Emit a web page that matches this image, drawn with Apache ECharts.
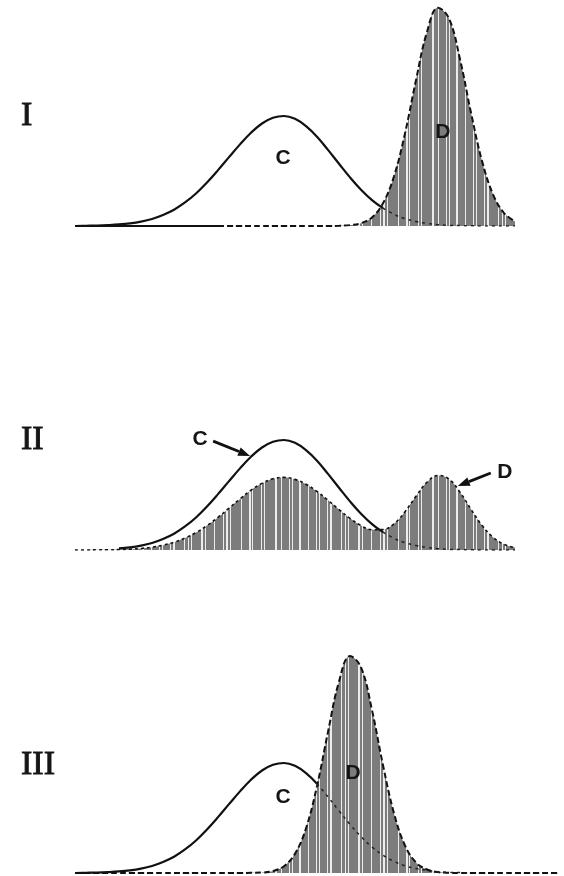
<!DOCTYPE html>
<html>
<head>
<meta charset="utf-8">
<script src="https://cdn.jsdelivr.net/npm/echarts@6/dist/echarts.min.js"></script>
<style>
  html, body { margin: 0; padding: 0; background: #fff; }
  #chart { width: 564px; height: 876px; }
</style>
</head>
<body>
<div id="chart"></div>
<script>
// Sample positions along the trait axis, shared by every curve
const xs = [0, 0.25, 0.5, 0.75, 1, 1.25, 1.5, 1.75, 2, 2.25, 2.5, 2.75, 3, 3.25, 3.5, 3.75,
            4, 4.25, 4.5, 4.75, 5, 5.25, 5.5, 5.75, 6, 6.25, 6.5, 6.75, 7, 7.25, 7.5, 7.75,
            8, 8.25, 8.5, 8.75, 9, 9.25, 9.5, 9.75, 10, 10.25, 10.5, 10.75, 11];

// Distribution C (the same curve in all three panels)
const curveC = [0, 0.1, 0.2, 0.4, 0.7, 1.2, 2.0, 3.2, 5.0, 7.4, 10.7, 14.8, 19.8, 25.4, 31.3, 37.1,
                42.4, 46.6, 49.2, 50.0, 48.7, 45.4, 40.6, 34.6, 28.3, 22.1, 16.5, 11.8, 8.1, 5.3, 3.3, 2.0,
                1.2, 0.6, 0.3, 0.2, 0.1, 0, 0, 0, 0, 0, 0, 0, 0];

// Panel I: distribution D
const shadeI = [null, null, null, null, null, null, null, null, null, null, null, null, null, 0, 0, 0,
                0, 0, 0, 0, 0, 0, 0, 0, 0.1, 0.4, 1.3, 3.9, 10.3, 22.6, 42.1, 66.3,
                88.2, 99.2, 94.3, 75.8, 51.5, 29.6, 14.4, 5.9, 2.1, null, null, null, null];

// Panel II: combined shaded distribution (scaled C plus small D)
const shadeII = [0, 0, 0.1, 0.1, 0.2, 0.4, 0.7, 1.3, 2.2, 3.5, 5.4, 7.9, 11.1, 14.8, 19.0, 23.2,
                 27.2, 30.3, 32.4, 33.0, 32.1, 29.9, 26.6, 22.6, 18.4, 14.4, 11.1, 9.2, 9.3, 11.9, 17.4, 24.4,
                 30.8, 33.9, 32.2, 26.3, 18.5, 11.2, 5.8, 2.6, 1.1, null, null, null, null];

// Panel III: distribution D
const shadeIII = [0, 0, 0, 0, 0, 0, 0, 0, 0, 0, 0, 0, 0, 0, 0, 0,
                  0.1, 0.2, 0.9, 3.1, 8.7, 20.3, 39.5, 64.1, 87.0, 98.6, 93.5, 74.0, 49.0, 27.1, 12.5, 4.8,
                  1.6, 0.4, 0.1, 0, 0, 0, 0, 0, 0, 0, 0, 0, 0];

// Where curve C is drawn solid (outside the shading) and dotted (inside it): [start, split, end] indices
const cSpanI = [0, 28, 40];
const cSpanII = [4, 28, 40];
const cSpanIII = [0, 22, 36];

// Curve labels per panel: [x, y, text]
const curveLabels = [
  [[4.73, 30.9, 'C'], [8.36, 42.7, 'D']],
  [[2.84, 50.5, 'C'], [9.77, 35.5, 'D']],
  [[4.73, 34.5, 'C'], [6.32, 45.5, 'D']]
];
// Arrows in panel II: [fromX, fromY, toX, toY]
const arrowsII = [[3.14, 49.5, 3.98, 42.7], [9.45, 35.0, 8.70, 29.1]];
// Solid ground line at the left of panel I
const groundI = [0, 3.25];

const panelNames = ['I', 'II', 'III'];

// Grey fill with irregular light vertical hatching
function hatchCanvas() {
  const c = document.createElement('canvas');
  c.width = 157; c.height = 8;
  const g = c.getContext('2d');
  g.fillStyle = '#7c7c7c';
  g.fillRect(0, 0, c.width, c.height);
  g.fillStyle = '#ececec';
  const stripes = [[2, 1], [5, 1], [13, 1], [16, 2], [27, 1], [31, 1], [34, 1], [44, 2], [48, 1],
                   [57, 1], [66, 1], [69, 2], [73, 1], [84, 1], [92, 2], [95, 1], [104, 1], [107, 1],
                   [118, 2], [124, 1], [132, 1], [135, 1], [142, 2], [151, 1]];
  stripes.forEach(([x, w]) => g.fillRect(x, 0, w, c.height));
  return c;
}
const hatch = { image: hatchCanvas(), repeat: 'repeat' };

function pairs(values, from, to) {
  const out = [];
  for (let i = from; i <= to; i++) {
    if (values[i] !== null && values[i] !== undefined) out.push([xs[i], values[i]]);
  }
  return out;
}

const gridTops = [6, 330, 653];
const grids = gridTops.map(t => ({ left: 75, top: t, width: 484, height: 220 }));
const xAxes = gridTops.map((t, i) => ({ type: 'value', gridIndex: i, min: 0, max: 11, show: false }));
const yAxes = gridTops.map((t, i) => ({ type: 'value', gridIndex: i, min: 0, max: 100, show: false }));

function shadeSeries(i, values, dash, width) {
  return {
    type: 'line', xAxisIndex: i, yAxisIndex: i,
    data: pairs(values, 0, values.length - 1),
    smooth: 0.4, showSymbol: false, silent: true,
    lineStyle: { color: '#111', width: width, type: dash },
    areaStyle: { color: hatch, opacity: 1 },
    z: 2
  };
}

function cSeries(i, span, extra) {
  const dotted = {
    type: 'line', xAxisIndex: i, yAxisIndex: i,
    data: pairs(curveC, span[1], span[2]),
    smooth: 0.4, showSymbol: false, silent: true,
    lineStyle: { color: '#222', width: 1.5, type: [3, 4] },
    z: 3
  };
  const solid = Object.assign({
    type: 'line', xAxisIndex: i, yAxisIndex: i,
    data: pairs(curveC, span[0], span[1]),
    smooth: 0.4, showSymbol: false, silent: true,
    lineStyle: { color: '#111', width: 2.2 },
    z: 4
  }, extra || {});
  return [dotted, solid];
}

const series = [
  shadeSeries(0, shadeI, [6, 3], 2),
  ...cSeries(0, cSpanI, {
    markLine: {
      silent: true, symbol: 'none', label: { show: false },
      lineStyle: { color: '#111', width: 2.2, type: 'solid' },
      data: [[{ coord: [groundI[0], 0] }, { coord: [groundI[1], 0] }]]
    }
  }),
  shadeSeries(1, shadeII, [3, 3], 1.6),
  ...cSeries(1, cSpanII),
  shadeSeries(2, shadeIII, [6, 3], 2),
  ...cSeries(2, cSpanIII)
];

const panelLabelY = [116, 440, 765];

const chart = echarts.init(document.getElementById('chart'), null, { renderer: 'canvas' });
chart.setOption({
  animation: false,
  backgroundColor: '#fff',
  grid: grids,
  xAxis: xAxes,
  yAxis: yAxes,
  series: series
});

// Panel numerals, curve letters and arrows, placed through each panel's scales
const graphic = panelNames.map((n, i) => ({
  type: 'text', x: 21, y: panelLabelY[i], z: 10,
  style: {
    text: n, font: '34px "Liberation Serif"', fill: '#151515',
    stroke: '#151515', lineWidth: 0.9,
    verticalAlign: 'middle', textVerticalAlign: 'middle'
  }
}));
curveLabels.forEach((list, gi) => {
  list.forEach(([x, y, t]) => {
    const p = chart.convertToPixel({ gridIndex: gi }, [x, y]);
    graphic.push({
      type: 'text', x: p[0], y: p[1], z: 10,
      style: {
        text: t, font: 'bold 21px "Liberation Sans"', fill: '#151515',
        align: 'center', textAlign: 'center',
        verticalAlign: 'middle', textVerticalAlign: 'middle'
      }
    });
  });
});
arrowsII.forEach(([x1, y1, x2, y2]) => {
  const a = chart.convertToPixel({ gridIndex: 1 }, [x1, y1]);
  const b = chart.convertToPixel({ gridIndex: 1 }, [x2, y2]);
  const dx = b[0] - a[0], dy = b[1] - a[1];
  const len = Math.hypot(dx, dy);
  const ux = dx / len, uy = dy / len;
  const headLen = 12, headHalf = 4.5;
  const base = [b[0] - ux * headLen, b[1] - uy * headLen];
  graphic.push({
    type: 'line', z: 10,
    shape: { x1: a[0], y1: a[1], x2: base[0], y2: base[1] },
    style: { stroke: '#111', lineWidth: 2.8 }
  });
  graphic.push({
    type: 'polygon', z: 10,
    shape: { points: [b, [base[0] - uy * headHalf, base[1] + ux * headHalf], [base[0] + uy * headHalf, base[1] - ux * headHalf]] },
    style: { fill: '#111' }
  });
});
chart.setOption({ graphic: graphic });
</script>
</body>
</html>
